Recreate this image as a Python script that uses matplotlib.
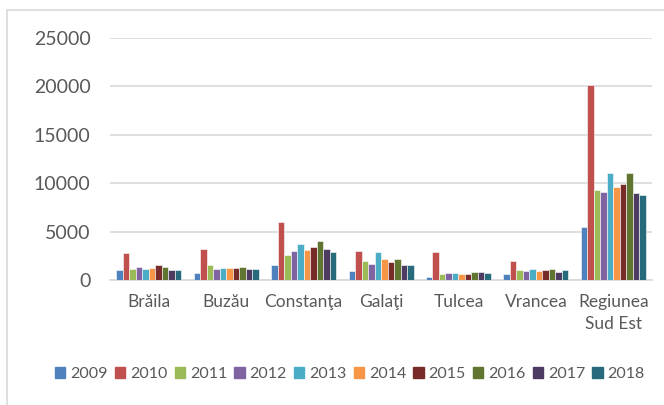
import numpy as np
import matplotlib.pyplot as plt
from matplotlib.patches import Rectangle, Patch

plt.rcParams['font.family'] = ['Lato', 'DejaVu Sans']

regions = ['Brăila', 'Buzău', 'Constanţa', 'Galaţi', 'Tulcea', 'Vrancea', 'Regiunea\nSud Est']
years = ['2009', '2010', '2011', '2012', '2013', '2014', '2015', '2016', '2017', '2018']

# one list per region, values for 2009..2018
braila = [1070, 2760, 1140, 1350, 1140, 1280, 1590, 1350, 1070, 1070]
buzau = [760, 3250, 1590, 1140, 1280, 1280, 1280, 1350, 1140, 1140]
constanta = [1520, 5950, 2600, 3010, 3700, 3150, 3390, 4050, 3220, 2900]
galati = [940, 2980, 2000, 1690, 2940, 2150, 1870, 2180, 1560, 1560]
tulcea = [310, 2940, 650, 730, 690, 650, 590, 830, 830, 760]
vrancea = [620, 1940, 1040, 970, 1110, 930, 1070, 1140, 860, 1000]
sud_est = [5460, 20100, 9260, 9130, 11100, 9580, 9960, 11030, 9030, 8750]

colors = ['#4F81BD', '#C0504D', '#9BBB59', '#8064A2', '#4BACC6',
          '#F79646', '#772C2A', '#5F7530', '#4D3B62', '#276A7C']

data = np.array([braila, buzau, constanta, galati, tulcea, vrancea, sud_est])

fig = plt.figure(figsize=(6.64, 4.05), dpi=100)
ax = fig.add_axes([0.1657, 0.3086, 0.8163, 0.5974])

x = np.arange(len(regions))
bw = 0.084
for i, yr in enumerate(years):
    ax.bar(x + (i - 4.5) * bw, data[:, i], width=bw, color=colors[i],
           edgecolor='white', linewidth=0.4, zorder=3)

ax.set_xlim(-0.5, len(regions) - 0.5)
ax.set_ylim(0, 25000)
ax.set_yticks(range(0, 25001, 5000))
ax.grid(axis='y', color='#D9D9D9', linewidth=1.2, zorder=0)
for s in ['top', 'right', 'left']:
    ax.spines[s].set_visible(False)
ax.spines['bottom'].set_color('#D9D9D9')
ax.spines['bottom'].set_linewidth(1.2)
ax.tick_params(length=0, labelsize=14, colors='#595959', pad=14)
ax.tick_params(axis='x', labelsize=12.5, pad=10)
ax.set_xticks(x)
ax.set_xticklabels(regions, linespacing=1.45)

handles = [Patch(color=c) for c in colors]
fig.legend(handles, years, loc='center', bbox_to_anchor=(0.527, 0.077), ncol=10,
           frameon=False, fontsize=11.5, handlelength=0.65, handleheight=0.65,
           handletextpad=0.3, columnspacing=0.45, labelcolor='#595959')

# chart area border, running off the right and bottom of the image
fig.patches.append(Rectangle((7 / 664, -0.1), 1.2, 1 - 10 / 405 + 0.1,
                             transform=fig.transFigure, fill=False,
                             edgecolor='#D9D9D9', linewidth=1.2))

fig.savefig('out.png', dpi=100)
